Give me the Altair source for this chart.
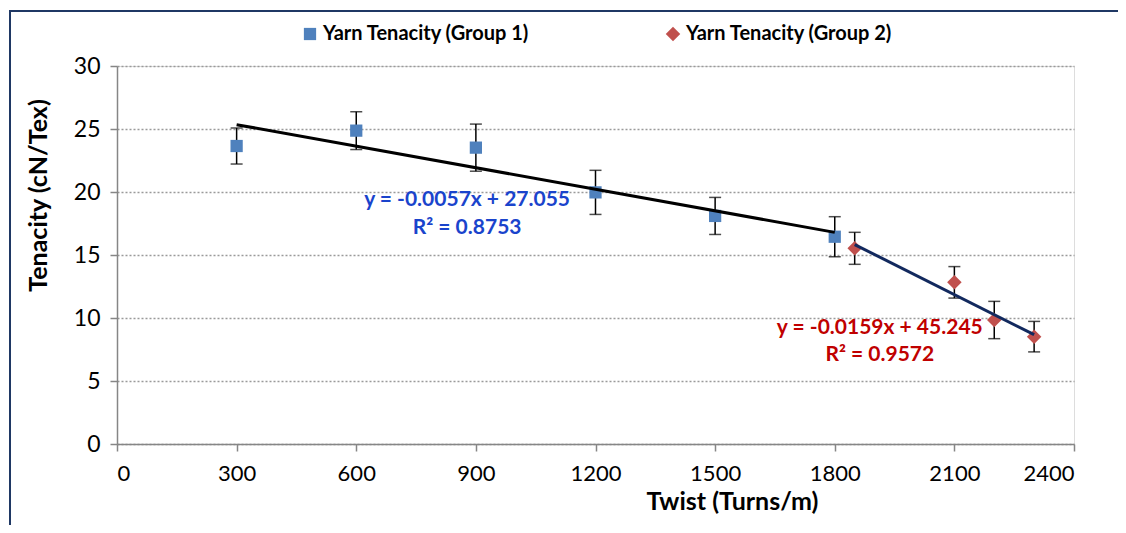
import altair as alt
import pandas as pd

# ---- data ----
series_names = ["Yarn Tenacity (Group 1)", "Yarn Tenacity (Group 2)"]
twist_g1 = [300, 600, 900, 1200, 1500, 1800]
ten_g1 = [23.65, 24.87, 23.52, 19.97, 18.10, 16.45]
err_g1 = [1.43, 1.50, 1.87, 1.75, 1.47, 1.59]
twist_g2 = [1850, 2100, 2200, 2300]
ten_g2 = [15.53, 12.83, 9.84, 8.52]
err_g2 = [1.27, 1.25, 1.48, 1.21]

trend_g1_x = [300, 1800]
trend_g1_y = [25.345, 16.795]
trend_g2_x = [1850, 2300]
trend_g2_y = [15.83, 8.675]

ann_text = ["y = -0.0057x + 27.055", "R² = 0.8753", "y = -0.0159x + 45.245", "R² = 0.9572"]
ann_x = [878, 878, 1913, 1913]
ann_y = [19.37, 17.14, 9.23, 7.06]
ann_color = ["#1a44cc", "#1a44cc", "#c00000", "#c00000"]

x_ticks = [0, 300, 600, 900, 1200, 1500, 1800, 2100, 2400]
y_ticks = [0, 5, 10, 15, 20, 25, 30]

FONT = "Lato"

pts = pd.DataFrame({
    "twist": twist_g1 + twist_g2,
    "ten": ten_g1 + ten_g2,
    "err": err_g1 + err_g2,
    "series": [series_names[0]] * len(twist_g1) + [series_names[1]] * len(twist_g2),
})
pts["lo"] = pts["ten"] - pts["err"]
pts["hi"] = pts["ten"] + pts["err"]

trend1 = pd.DataFrame({"twist": trend_g1_x, "ten": trend_g1_y})
trend2 = pd.DataFrame({"twist": trend_g2_x, "ten": trend_g2_y})
ann = pd.DataFrame({"x": ann_x, "y": ann_y, "text": ann_text, "color": ann_color})

xscale = alt.Scale(domain=[0, 2400], nice=False, zero=False)
yscale = alt.Scale(domain=[0, 30], nice=False)

x_enc = alt.X("twist:Q", scale=xscale, title="Twist (Turns/m)",
              axis=alt.Axis(values=x_ticks, format="d", grid=False, tickSize=7, labelPadding=12,
                            domainColor="#868686", tickColor="#868686", domainWidth=1.5, tickWidth=1.5,
                            labelFontSize=22, labelColor="#000", labelFont=FONT,
                            titleFont=FONT, titleFontSize=25, titleFontWeight="bold", titleColor="#000",
                            titleX=615, titleY=57, titleBaseline="middle", titleAnchor="middle"))
y_enc = alt.Y("ten:Q", scale=yscale, title="Tenacity (cN/Tex)",
              axis=alt.Axis(values=y_ticks, format="d", grid=True, gridDash=[2, 2], gridColor="#9a9a9a",
                            gridWidth=1.5, tickSize=7, labelPadding=10,
                            domainColor="#868686", tickColor="#868686", domainWidth=1.5, tickWidth=1.5,
                            labelFontSize=23, labelColor="#000", labelFont=FONT,
                            titleFont=FONT, titleFontSize=25, titleFontWeight="bold", titleColor="#000",
                            titleX=-79, titleY=129, titleBaseline="middle", titleAngle=-90,
                            titleAlign="center"))

base = alt.Chart(pts)

err_rule = base.mark_rule(color="black", strokeWidth=1.5).encode(
    x=alt.X("twist:Q", scale=xscale), y=alt.Y("lo:Q", scale=yscale), y2="hi:Q")
cap_lo = base.mark_tick(color="black", orient="horizontal", size=12, thickness=1.5).encode(
    x=alt.X("twist:Q", scale=xscale), y=alt.Y("lo:Q", scale=yscale))
cap_hi = base.mark_tick(color="black", orient="horizontal", size=12, thickness=1.5).encode(
    x=alt.X("twist:Q", scale=xscale), y=alt.Y("hi:Q", scale=yscale))

legend = alt.Legend(title=None, orient="none", legendX=183, legendY=-42, direction="horizontal",
                    columnPadding=133, symbolSize=110, symbolStrokeWidth=0, labelFont=FONT,
                    labelFontSize=20, labelFontWeight="bold", labelColor="#000", labelOffset=3,
                    labelLimit=0)

markers = base.mark_point(filled=True, opacity=1, strokeWidth=0).encode(
    x=x_enc, y=y_enc,
    color=alt.Color("series:N", scale=alt.Scale(domain=series_names, range=["#4f81bd", "#c0504d"]),
                    legend=legend),
    shape=alt.Shape("series:N", scale=alt.Scale(domain=series_names, range=["square", "diamond"]),
                    legend=legend),
    size=alt.Size("series:N", scale=alt.Scale(domain=series_names, range=[150, 210]), legend=None),
)

line1 = alt.Chart(trend1).mark_line(strokeWidth=3, color="#000000").encode(
    x=alt.X("twist:Q", scale=xscale), y=alt.Y("ten:Q", scale=yscale))
line2 = alt.Chart(trend2).mark_line(strokeWidth=3, color="#12295e").encode(
    x=alt.X("twist:Q", scale=xscale), y=alt.Y("ten:Q", scale=yscale))

texts = alt.Chart(ann).mark_text(font=FONT, fontSize=21, fontWeight="bold", align="center",
                                 baseline="middle").encode(
    x=alt.X("x:Q", scale=xscale), y=alt.Y("y:Q", scale=yscale),
    text="text:N", color=alt.Color("color:N", scale=None))

# chart-area frame (top and left edges are what the reference shows)
frame_src = pd.DataFrame({"a": [0]})
frame_top = alt.Chart(frame_src).mark_rule(color="#1f3864", strokeWidth=2).encode(
    x=alt.value(-108), x2=alt.value(1001), y=alt.value(-55), y2=alt.value(-55))
frame_left = alt.Chart(frame_src).mark_rule(color="#1f3864", strokeWidth=2).encode(
    x=alt.value(-107), x2=alt.value(-107), y=alt.value(-56), y2=alt.value(470))

chart = alt.layer(err_rule, cap_lo, cap_hi, markers, line1, line2, texts,
                  frame_top, frame_left).properties(
    width=957, height=378,
    autosize=alt.AutoSizeParams(type="none"),
    padding={"left": 109, "top": 58, "right": 44, "bottom": 81},
).configure_view(stroke=None).configure(background="white")

chart.save("out.html", embed_options={"renderer": "svg", "actions": False})
